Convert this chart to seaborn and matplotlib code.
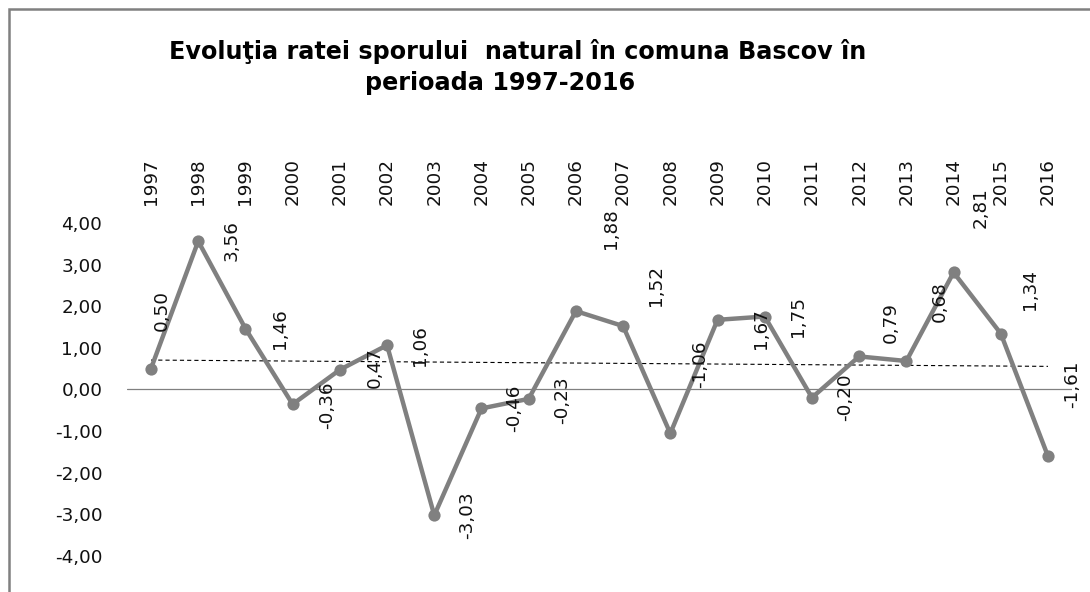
import numpy as np
import matplotlib
matplotlib.use("Agg")
import matplotlib.pyplot as plt
from matplotlib.patches import Rectangle
from matplotlib.ticker import FuncFormatter, FixedLocator
import seaborn as sns

# Natural increase rate, Bascov commune, 1997-2016
years = ["1997", "1998", "1999", "2000", "2001", "2002", "2003", "2004", "2005", "2006",
         "2007", "2008", "2009", "2010", "2011", "2012", "2013", "2014", "2015", "2016"]
rate = [0.50, 3.56, 1.46, -0.36, 0.47, 1.06, -3.03, -0.46, -0.23, 1.88,
        1.52, -1.06, 1.67, 1.75, -0.20, 0.79, 0.68, 2.81, 1.34, -1.61]
y_ticks = [4, 3, 2, 1, 0, -1, -2, -3, -4]
title_lines = ["Evoluţia ratei sporului  natural în comuna Bascov în", "perioada 1997-2016"]

# label placement relative to each point (pixels, right / down)
label_offsets = [(11, -58), (33, -1), (35, 0), (34, 1), (35, -2), (33, 0), (33, 0),
                 (33, 0), (33, 1), (35, -82), (33, -41), (30, -69), (43, 9), (33, 0),
                 (33, 0), (32, -34), (33, -59), (27, -65), (29, -44), (24, -72)]

sns.set_style("white")
plt.rcParams["font.family"] = ["DejaVu Sans"]
plt.rcParams["lines.scale_dashes"] = False

W, H = 1090, 592
fig = plt.figure(figsize=(W / 100, H / 100), dpi=100)
fig.patch.set_facecolor("white")

# plot area in pixels
left_px, right_px = 127.4, 1071.6
top_px, bottom_px = 222.9, 555.7
ax = fig.add_axes([left_px / W, 1 - bottom_px / H,
                   (right_px - left_px) / W, (bottom_px - top_px) / H])
ax.set_facecolor("none")

xpos = np.arange(len(years))
grey = "#808080"
ink = "#111111"
fs = 13.2

ax.axhline(0, color=grey, lw=0.9, zorder=1)

sns.regplot(x=xpos, y=np.array(rate), ax=ax, scatter=False, ci=None,
            line_kws=dict(color="black", lw=0.8, ls=(0, (3, 2.2)), zorder=2))

sns.lineplot(x=xpos, y=rate, ax=ax, color=grey, lw=3.2, marker="o",
             markersize=8.8, markeredgewidth=0, markerfacecolor=grey, zorder=3,
             clip_on=False)

def fmt(v):
    return f"{v:.2f}".replace(".", ",")

for xi, v, (dx, dy) in zip(xpos, rate, label_offsets):
    ax.annotate(fmt(v), xy=(xi, v), xytext=(dx, -dy), textcoords="offset pixels",
                rotation=90, ha="center", va="center", fontsize=fs,
                color=ink, annotation_clip=False, zorder=4)

ax.set_xlim(-0.5, len(years) - 0.5)
ax.set_ylim(-4, 4)
ax.xaxis.tick_top()
ax.set_xticks(xpos)
ax.set_xticklabels(years, rotation=90, fontsize=fs, color=ink)
ax.yaxis.set_major_locator(FixedLocator(y_ticks))
ax.yaxis.set_major_formatter(FuncFormatter(lambda v, p: fmt(v)))
ax.tick_params(axis="x", length=0, pad=13)
ax.tick_params(axis="y", length=0, pad=18, labelsize=fs, labelcolor=ink)
ax.set_xlabel("")
ax.set_ylabel("")
for s in ax.spines.values():
    s.set_visible(False)

# chart border
fig.add_artist(Rectangle((8.5 / W, -0.2), 1.3, 1.2 - 8.5 / H, transform=fig.transFigure,
                         fill=False, edgecolor=grey, lw=1.8))

# two-line title, sized so the first line spans most of the chart header
title_font = dict(family=["DejaVu Sans"], weight="bold", color="black",
                  ha="center", va="center")
t1 = fig.text(517.5 / W, 1 - 51 / H, title_lines[0], fontsize=16, **title_font)
t2 = fig.text(500 / W, 1 - 83 / H, title_lines[1], fontsize=16, **title_font)
renderer = fig.canvas.get_renderer()
w1 = t1.get_window_extent(renderer).width
size = 16 * 700 / w1
t1.set_fontsize(size)
t2.set_fontsize(size)

fig.savefig("out.png", dpi=100)
